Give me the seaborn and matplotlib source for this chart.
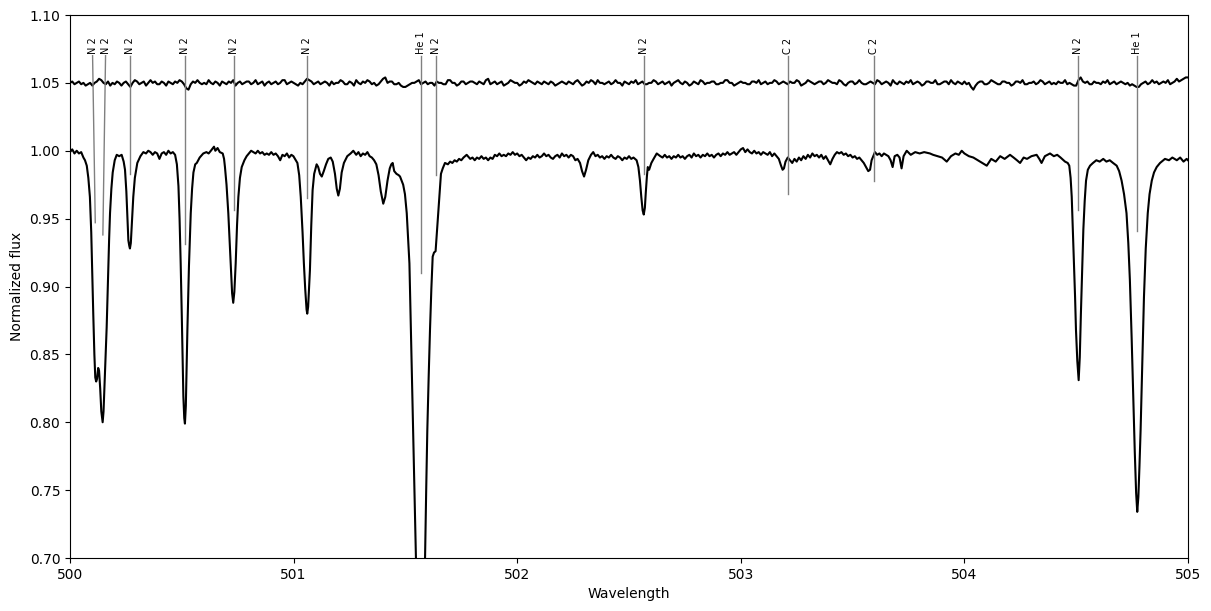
import matplotlib
matplotlib.use("Agg")
import matplotlib.pyplot as plt
import seaborn as sns
import numpy as np
import pandas as pd

# lower spectrum (star), wavelength in nm and normalized flux
wl_star = [
    500.000, 500.010, 500.020, 500.030, 500.040, 500.050, 500.060, 500.067, 500.075, 500.082,
    500.089, 500.095, 500.100, 500.104, 500.109, 500.113, 500.117, 500.121, 500.126, 500.130,
    500.135, 500.140, 500.146, 500.150, 500.155, 500.160, 500.164, 500.170, 500.175, 500.179,
    500.185, 500.191, 500.200, 500.209, 500.220, 500.231, 500.240, 500.246, 500.252, 500.257,
    500.261, 500.265, 500.268, 500.272, 500.276, 500.283, 500.290, 500.301, 500.315, 500.328,
    500.340, 500.350, 500.360, 500.370, 500.380, 500.390, 500.400, 500.410, 500.420, 500.430,
    500.440, 500.450, 500.460, 500.470, 500.478, 500.485, 500.490, 500.495, 500.500, 500.507,
    500.511, 500.514, 500.518, 500.522, 500.525, 500.532, 500.540, 500.546, 500.552, 500.560,
    500.567, 500.580, 500.596, 500.610, 500.620, 500.630, 500.644, 500.650, 500.660, 500.670,
    500.683, 500.689, 500.693, 500.700, 500.708, 500.715, 500.720, 500.725, 500.730, 500.735,
    500.741, 500.747, 500.753, 500.760, 500.768, 500.780, 500.790, 500.800, 500.810, 500.820,
    500.830, 500.840, 500.850, 500.860, 500.870, 500.880, 500.890, 500.900, 500.910, 500.920,
    500.930, 500.940, 500.950, 500.960, 500.970, 500.980, 500.990, 500.999, 501.010, 501.017,
    501.025, 501.032, 501.040, 501.046, 501.052, 501.058, 501.061, 501.065, 501.069, 501.073,
    501.079, 501.085, 501.092, 501.103, 501.110, 501.118, 501.126, 501.135, 501.145, 501.155,
    501.166, 501.175, 501.185, 501.193, 501.200, 501.207, 501.215, 501.225, 501.240, 501.255,
    501.267, 501.280, 501.290, 501.300, 501.310, 501.320, 501.330, 501.340, 501.350, 501.360,
    501.370, 501.380, 501.390, 501.401, 501.410, 501.420, 501.430, 501.437, 501.443, 501.450,
    501.460, 501.470, 501.476, 501.483, 501.490, 501.498, 501.506, 501.512, 501.518, 501.523,
    501.528, 501.533, 501.538, 501.547, 501.555, 501.562, 501.568, 501.575, 501.581, 501.588,
    501.593, 501.598, 501.604, 501.610, 501.616, 501.622, 501.628, 501.635, 501.640, 501.647,
    501.653, 501.659, 501.667, 501.677, 501.690, 501.700, 501.710, 501.720, 501.730, 501.740,
    501.750, 501.760, 501.774, 501.790, 501.800, 501.810, 501.820, 501.830, 501.840, 501.850,
    501.860, 501.870, 501.880, 501.890, 501.900, 501.910, 501.920, 501.930, 501.940, 501.950,
    501.960, 501.970, 501.980, 501.990, 502.000, 502.010, 502.020, 502.030, 502.040, 502.050,
    502.060, 502.070, 502.080, 502.090, 502.100, 502.110, 502.120, 502.130, 502.140, 502.150,
    502.160, 502.170, 502.180, 502.190, 502.200, 502.210, 502.220, 502.230, 502.240, 502.250,
    502.260, 502.270, 502.281, 502.290, 502.299, 502.308, 502.318, 502.330, 502.340, 502.350,
    502.360, 502.370, 502.380, 502.390, 502.400, 502.410, 502.420, 502.430, 502.440, 502.450,
    502.460, 502.470, 502.480, 502.490, 502.500, 502.510, 502.520, 502.534, 502.542, 502.549,
    502.555, 502.561, 502.566, 502.571, 502.575, 502.580, 502.584, 502.590, 502.600, 502.610,
    502.624, 502.640, 502.650, 502.660, 502.670, 502.680, 502.690, 502.700, 502.710, 502.720,
    502.730, 502.740, 502.750, 502.760, 502.770, 502.780, 502.790, 502.800, 502.810, 502.820,
    502.830, 502.840, 502.850, 502.860, 502.870, 502.880, 502.890, 502.900, 502.910, 502.920,
    502.930, 502.940, 502.950, 502.960, 502.970, 502.980, 502.990, 503.000, 503.010, 503.020,
    503.030, 503.040, 503.050, 503.060, 503.070, 503.080, 503.090, 503.100, 503.110, 503.120,
    503.130, 503.140, 503.150, 503.160, 503.170, 503.180, 503.187, 503.193, 503.200, 503.210,
    503.220, 503.230, 503.240, 503.250, 503.260, 503.270, 503.280, 503.290, 503.300, 503.310,
    503.320, 503.330, 503.340, 503.350, 503.360, 503.370, 503.380, 503.390, 503.400, 503.410,
    503.420, 503.430, 503.440, 503.450, 503.460, 503.470, 503.480, 503.490, 503.500, 503.510,
    503.520, 503.530, 503.540, 503.550, 503.560, 503.570, 503.578, 503.585, 503.600, 503.610,
    503.620, 503.630, 503.640, 503.650, 503.660, 503.670, 503.679, 503.688, 503.700, 503.710,
    503.719, 503.728, 503.742, 503.760, 503.780, 503.800, 503.820, 503.846, 503.860, 503.880,
    503.900, 503.921, 503.940, 503.960, 503.975, 503.988, 504.000, 504.020, 504.040, 504.060,
    504.080, 504.100, 504.120, 504.140, 504.160, 504.180, 504.204, 504.220, 504.235, 504.249,
    504.265, 504.280, 504.300, 504.323, 504.335, 504.345, 504.360, 504.383, 504.400, 504.415,
    504.430, 504.450, 504.462, 504.469, 504.475, 504.480, 504.485, 504.490, 504.495, 504.499,
    504.505, 504.511, 504.516, 504.521, 504.527, 504.532, 504.538, 504.544, 504.552, 504.562,
    504.575, 504.590, 504.605, 504.621, 504.635, 504.650, 504.665, 504.681, 504.692, 504.703,
    504.714, 504.725, 504.733, 504.740, 504.748, 504.755, 504.762, 504.768, 504.773, 504.778,
    504.783, 504.788, 504.795, 504.803, 504.811, 504.820, 504.828, 504.838, 504.848, 504.860,
    504.875, 504.897, 504.915, 504.930, 504.950, 504.965, 504.980, 504.994, 505.000,
]
flux_star = [
    0.999, 1.001, 0.998, 1.000, 0.998, 0.999, 0.995, 0.993, 0.989, 0.980,
    0.966, 0.940, 0.905, 0.880, 0.850, 0.833, 0.830, 0.832, 0.840, 0.838,
    0.825, 0.808, 0.800, 0.808, 0.830, 0.852, 0.870, 0.905, 0.935, 0.954,
    0.972, 0.984, 0.993, 0.997, 0.996, 0.997, 0.992, 0.986, 0.970, 0.950,
    0.934, 0.930, 0.928, 0.932, 0.944, 0.966, 0.980, 0.991, 0.996, 0.999,
    0.998, 1.000, 0.999, 0.997, 0.999, 0.998, 0.994, 0.998, 0.999, 0.997,
    1.000, 0.998, 0.999, 0.997, 0.990, 0.974, 0.950, 0.917, 0.878, 0.819,
    0.803, 0.799, 0.812, 0.845, 0.868, 0.915, 0.954, 0.972, 0.984, 0.990,
    0.991, 0.995, 0.998, 0.999, 0.998, 1.000, 1.003, 1.000, 1.002, 0.999,
    0.998, 0.994, 0.988, 0.975, 0.954, 0.930, 0.912, 0.895, 0.888, 0.896,
    0.917, 0.945, 0.966, 0.980, 0.988, 0.993, 0.996, 0.998, 1.000, 0.999,
    0.998, 1.000, 0.998, 0.999, 0.997, 0.998, 0.997, 0.999, 0.997, 0.998,
    0.996, 0.993, 0.997, 0.996, 0.998, 0.995, 0.997, 0.996, 0.993, 0.991,
    0.982, 0.966, 0.940, 0.917, 0.898, 0.883, 0.880, 0.885, 0.898, 0.912,
    0.945, 0.971, 0.983, 0.990, 0.988, 0.983, 0.981, 0.985, 0.990, 0.994,
    0.995, 0.992, 0.983, 0.972, 0.967, 0.972, 0.984, 0.991, 0.996, 0.998,
    1.000, 0.997, 0.999, 0.996, 0.998, 0.997, 0.999, 0.996, 0.995, 0.993,
    0.990, 0.982, 0.970, 0.961, 0.966, 0.978, 0.987, 0.990, 0.991, 0.985,
    0.983, 0.982, 0.981, 0.978, 0.975, 0.968, 0.954, 0.935, 0.917, 0.880,
    0.844, 0.808, 0.770, 0.701, 0.660, 0.630, 0.620, 0.630, 0.660, 0.701,
    0.750, 0.794, 0.833, 0.868, 0.898, 0.922, 0.925, 0.926, 0.938, 0.954,
    0.970, 0.983, 0.987, 0.991, 0.990, 0.992, 0.991, 0.993, 0.992, 0.994,
    0.993, 0.995, 0.997, 0.994, 0.995, 0.993, 0.995, 0.994, 0.996, 0.994,
    0.995, 0.993, 0.995, 0.994, 0.997, 0.996, 0.998, 0.996, 0.997, 0.996,
    0.998, 0.997, 0.999, 0.997, 0.998, 0.996, 0.997, 0.995, 0.993, 0.995,
    0.994, 0.996, 0.995, 0.997, 0.995, 0.996, 0.998, 0.996, 0.997, 0.995,
    0.994, 0.996, 0.997, 0.995, 0.998, 0.996, 0.997, 0.995, 0.997, 0.996,
    0.993, 0.994, 0.991, 0.985, 0.981, 0.986, 0.993, 0.997, 0.999, 0.996,
    0.997, 0.995, 0.996, 0.994, 0.996, 0.995, 0.997, 0.995, 0.994, 0.996,
    0.995, 0.993, 0.995, 0.994, 0.996, 0.994, 0.995, 0.993, 0.988, 0.978,
    0.966, 0.956, 0.953, 0.958, 0.969, 0.981, 0.988, 0.986, 0.991, 0.994,
    0.998, 0.996, 0.995, 0.997, 0.995, 0.996, 0.994, 0.996, 0.995, 0.997,
    0.995, 0.996, 0.994, 0.996, 0.997, 0.995, 0.998, 0.996, 0.997, 0.995,
    0.997, 0.996, 0.998, 0.996, 0.997, 0.995, 0.997, 0.998, 0.996, 0.998,
    0.997, 0.999, 0.997, 0.998, 0.999, 0.997, 0.999, 1.001, 1.002, 0.999,
    1.001, 0.999, 0.998, 1.000, 0.998, 0.999, 0.997, 0.999, 0.998, 0.997,
    0.999, 0.996, 0.998, 0.996, 0.994, 0.989, 0.986, 0.987, 0.992, 0.995,
    0.993, 0.991, 0.994, 0.992, 0.995, 0.993, 0.996, 0.994, 0.997, 0.995,
    0.998, 0.996, 0.997, 0.995, 0.997, 0.994, 0.996, 0.993, 0.990, 0.994,
    0.997, 0.999, 0.998, 0.999, 0.997, 0.998, 0.996, 0.997, 0.995, 0.996,
    0.994, 0.995, 0.993, 0.991, 0.988, 0.985, 0.986, 0.993, 0.999, 0.997,
    0.998, 0.996, 0.998, 0.997, 0.996, 0.993, 0.988, 0.996, 0.997, 0.995,
    0.987, 0.996, 1.000, 0.997, 0.999, 0.998, 0.999, 0.998, 0.997, 0.996,
    0.995, 0.992, 0.996, 0.998, 0.997, 1.000, 0.998, 0.996, 0.995, 0.993,
    0.991, 0.989, 0.994, 0.992, 0.996, 0.994, 0.997, 0.995, 0.993, 0.991,
    0.995, 0.994, 0.996, 0.997, 0.994, 0.991, 0.996, 0.998, 0.996, 0.997,
    0.995, 0.992, 0.991, 0.989, 0.980, 0.966, 0.942, 0.917, 0.892, 0.868,
    0.845, 0.831, 0.848, 0.880, 0.915, 0.942, 0.963, 0.978, 0.986, 0.989,
    0.991, 0.993, 0.992, 0.994, 0.992, 0.993, 0.991, 0.989, 0.985, 0.978,
    0.968, 0.954, 0.932, 0.905, 0.862, 0.819, 0.778, 0.748, 0.734, 0.745,
    0.768, 0.794, 0.840, 0.892, 0.928, 0.954, 0.968, 0.978, 0.984, 0.988,
    0.991, 0.994, 0.993, 0.995, 0.993, 0.995, 0.992, 0.994, 0.993,
]

# upper spectrum (offset +0.05), sampled every 0.01 nm from 500.00 to 505.00
wl_upper = [round(500.0 + 0.01 * i, 2) for i in range(501)]
flux_upper = [
    1.050, 1.051, 1.049, 1.050, 1.051, 1.049, 1.050, 1.048, 1.049, 1.050, 1.048, 1.050, 1.051, 1.053, 1.052, 1.050, 1.049, 1.051, 1.048, 1.050,
    1.049, 1.051, 1.050, 1.048, 1.050, 1.051, 1.049, 1.047, 1.050, 1.052, 1.051, 1.049, 1.050, 1.051, 1.048, 1.050, 1.052, 1.050, 1.051, 1.049,
    1.049, 1.051, 1.050, 1.048, 1.051, 1.050, 1.049, 1.051, 1.050, 1.052, 1.051, 1.049, 1.046, 1.045, 1.049, 1.051, 1.050, 1.052, 1.050, 1.049,
    1.050, 1.049, 1.052, 1.050, 1.049, 1.051, 1.050, 1.048, 1.051, 1.050, 1.049, 1.051, 1.050, 1.052, 1.048, 1.050, 1.051, 1.049, 1.050, 1.051,
    1.051, 1.049, 1.050, 1.052, 1.049, 1.050, 1.051, 1.048, 1.050, 1.051, 1.049, 1.050, 1.051, 1.049, 1.050, 1.052, 1.052, 1.049, 1.050, 1.051,
    1.050, 1.049, 1.048, 1.050, 1.049, 1.051, 1.053, 1.052, 1.051, 1.049, 1.050, 1.051, 1.049, 1.050, 1.051, 1.050, 1.048, 1.051, 1.049, 1.050,
    1.050, 1.052, 1.051, 1.049, 1.049, 1.051, 1.050, 1.048, 1.052, 1.050, 1.049, 1.051, 1.050, 1.052, 1.051, 1.049, 1.050, 1.048, 1.049, 1.051,
    1.053, 1.054, 1.050, 1.051, 1.051, 1.049, 1.049, 1.050, 1.048, 1.047, 1.047, 1.048, 1.049, 1.050, 1.050, 1.051, 1.052, 1.049, 1.050, 1.051,
    1.049, 1.050, 1.050, 1.048, 1.051, 1.050, 1.050, 1.049, 1.049, 1.052, 1.052, 1.050, 1.050, 1.048, 1.049, 1.051, 1.051, 1.049, 1.050, 1.051,
    1.051, 1.050, 1.049, 1.051, 1.050, 1.049, 1.052, 1.053, 1.049, 1.050, 1.051, 1.049, 1.050, 1.051, 1.048, 1.049, 1.050, 1.052, 1.051, 1.050,
    1.050, 1.048, 1.049, 1.051, 1.050, 1.052, 1.051, 1.050, 1.049, 1.051, 1.050, 1.049, 1.051, 1.050, 1.049, 1.051, 1.050, 1.048, 1.049, 1.050,
    1.051, 1.050, 1.049, 1.051, 1.050, 1.049, 1.051, 1.052, 1.050, 1.048, 1.049, 1.051, 1.050, 1.052, 1.051, 1.049, 1.052, 1.050, 1.050, 1.049,
    1.050, 1.051, 1.049, 1.050, 1.052, 1.050, 1.050, 1.048, 1.051, 1.050, 1.049, 1.051, 1.050, 1.052, 1.049, 1.050, 1.051, 1.049, 1.049, 1.050,
    1.050, 1.052, 1.051, 1.049, 1.050, 1.051, 1.049, 1.050, 1.051, 1.048, 1.050, 1.051, 1.052, 1.050, 1.049, 1.051, 1.050, 1.048, 1.049, 1.051,
    1.050, 1.049, 1.052, 1.051, 1.049, 1.050, 1.050, 1.051, 1.051, 1.049, 1.049, 1.050, 1.050, 1.052, 1.052, 1.050, 1.050, 1.048, 1.049, 1.050,
    1.051, 1.050, 1.050, 1.049, 1.049, 1.051, 1.051, 1.050, 1.052, 1.049, 1.050, 1.051, 1.049, 1.050, 1.050, 1.052, 1.051, 1.049, 1.050, 1.051,
    1.050, 1.049, 1.051, 1.050, 1.050, 1.052, 1.051, 1.048, 1.049, 1.050, 1.052, 1.051, 1.050, 1.049, 1.050, 1.051, 1.051, 1.049, 1.050, 1.052,
    1.051, 1.050, 1.050, 1.049, 1.052, 1.051, 1.049, 1.048, 1.050, 1.051, 1.051, 1.049, 1.050, 1.052, 1.050, 1.049, 1.049, 1.050, 1.051, 1.050,
    1.049, 1.052, 1.051, 1.049, 1.050, 1.051, 1.050, 1.048, 1.052, 1.050, 1.049, 1.051, 1.050, 1.049, 1.051, 1.050, 1.052, 1.049, 1.050, 1.051,
    1.050, 1.048, 1.049, 1.051, 1.051, 1.050, 1.050, 1.052, 1.049, 1.049, 1.050, 1.051, 1.051, 1.049, 1.052, 1.050, 1.049, 1.051, 1.050, 1.049,
    1.051, 1.049, 1.050, 1.047, 1.045, 1.048, 1.050, 1.051, 1.051, 1.049, 1.049, 1.050, 1.052, 1.051, 1.050, 1.049, 1.049, 1.051, 1.051, 1.050,
    1.050, 1.048, 1.049, 1.051, 1.051, 1.050, 1.052, 1.049, 1.049, 1.050, 1.050, 1.051, 1.049, 1.050, 1.052, 1.051, 1.049, 1.050, 1.051, 1.049,
    1.050, 1.049, 1.051, 1.050, 1.050, 1.052, 1.049, 1.050, 1.049, 1.048, 1.048, 1.052, 1.054, 1.051, 1.050, 1.051, 1.049, 1.049, 1.051, 1.050,
    1.050, 1.049, 1.051, 1.050, 1.052, 1.049, 1.050, 1.051, 1.049, 1.050, 1.051, 1.050, 1.049, 1.050, 1.048, 1.049, 1.048, 1.047, 1.047, 1.049,
    1.050, 1.051, 1.049, 1.050, 1.052, 1.050, 1.051, 1.049, 1.050, 1.051, 1.050, 1.052, 1.049, 1.050, 1.051, 1.053, 1.051, 1.052, 1.053, 1.054,
    1.054,
]

# line identifications
line_names = ["N 2", "N 2", "N 2", "N 2", "N 2", "N 2", "He 1", "N 2",
              "N 2", "C 2", "C 2", "N 2", "He 1"]
line_wl = [500.113, 500.147, 500.270, 500.515, 500.733, 501.062, 501.568, 501.638,
           502.566, 503.213, 503.594, 504.510, 504.774]
label_wl = [500.101, 500.159, 500.270, 500.515, 500.733, 501.062, 501.568, 501.638,
            502.566, 503.213, 503.594, 504.510, 504.774]
line_bottom = [0.947, 0.938, 0.983, 0.931, 0.956, 0.965, 0.910, 0.982,
               0.983, 0.968, 0.9775, 0.956, 0.941]
label_top = 1.07

star = pd.DataFrame({"wl": wl_star, "flux": flux_star})
upper = pd.DataFrame({"wl": wl_upper, "flux": flux_upper})

fig = plt.figure(figsize=(12.11, 6.11), dpi=100)
ax = fig.add_axes([70 / 1211, 1 - 558 / 611, 1118 / 1211, 543 / 611])

sns.lineplot(data=star, x="wl", y="flux", color="k", lw=1.5, estimator=None, sort=False, ax=ax)
sns.lineplot(data=upper, x="wl", y="flux", color="k", lw=1.5, estimator=None, sort=False, ax=ax)

for name, lw_, lx, lb in zip(line_names, line_wl, label_wl, line_bottom):
    ax.plot([lx, lw_], [label_top, lb], color="grey", lw=1)
    ax.text(lx, label_top + 0.001, name, rotation=90, ha="center", va="bottom", fontsize=7)

ax.set_xlim(500, 505)
ax.set_ylim(0.70, 1.10)
ax.set_yticks(np.arange(0.70, 1.101, 0.05))
ax.yaxis.set_major_formatter(matplotlib.ticker.FormatStrFormatter("%.2f"))
ax.set_xlabel("Wavelength")
ax.set_ylabel("Normalized flux")

fig.savefig("out.png", dpi=100)
